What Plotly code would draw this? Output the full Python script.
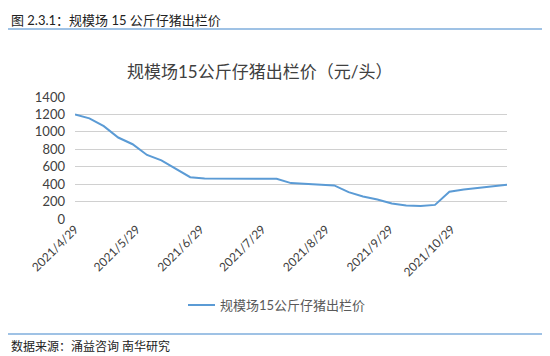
import plotly.graph_objects as go
import pandas as pd

dates = pd.date_range("2021-04-29", periods=31, freq="7D").strftime("%Y-%m-%d").tolist()
prices = [1200, 1155, 1065, 935, 858, 735, 673, 580, 480, 465,
          465, 465, 465, 465, 462, 412, 404, 396, 385, 308,
          258, 223, 177, 154, 150, 162, 312, 338, 354, 373, 392]
tick_dates = ["2021-04-29", "2021-05-29", "2021-06-29", "2021-07-29",
              "2021-08-29", "2021-09-29", "2021-10-29"]
tick_labels = ["2021/4/29", "2021/5/29", "2021/6/29", "2021/7/29",
               "2021/8/29", "2021/9/29", "2021/10/29"]
y_ticks = [0, 200, 400, 600, 800, 1000, 1200, 1400]
series_name = "规模场15公斤仔猪出栏价"
chart_title = "规模场15公斤仔猪出栏价（元/头）"
header = "图 2.3.1：规模场 15 公斤仔猪出栏价"
footer = "数据来源：涌益咨询 南华研究"

# page has an 8px body margin; work in page pixels and convert
OFF = 8
W, H = 550 - OFF, 356 - OFF
L, R, T, B = 75 - OFF, 507 - OFF, 97 - OFF, 219 - OFF
FONT = "Lato, 'Noto Sans CJK SC', sans-serif"


def px(xp):
    return (xp - OFF - L) / (R - L)


def py(yp):
    return (B - (yp - OFF)) / (B - T)


fig = go.Figure()
fig.add_trace(go.Scatter(
    x=dates, y=prices, mode="lines", name=series_name,
    line=dict(color="#5B9BD5", width=2), showlegend=False,
))

fig.update_layout(
    width=W, height=H,
    margin=dict(l=L, r=W - R, t=T, b=H - B),
    paper_bgcolor="white", plot_bgcolor="white",
    font=dict(family=FONT, color="#404040", size=12),
    xaxis=dict(
        type="date", range=[dates[0], dates[-1]],
        tickmode="array", tickvals=tick_dates, ticktext=tick_labels,
        tickangle=-45, showgrid=False, zeroline=False, showline=False,
        ticks="", tickfont=dict(size=12, color="#404040"),
    ),
    yaxis=dict(
        range=[0, 1400], tickmode="array", tickvals=y_ticks,
        showgrid=True, gridcolor="#D0D0D0", gridwidth=1,
        zeroline=False, showline=False, ticks="",
        ticklabelstandoff=9,
        tickfont=dict(size=13, color="#404040"),
    ),
)

shapes = [
    dict(type="line", xref="paper", yref="paper",
         x0=px(8), x1=px(550), y0=py(29), y1=py(29),
         line=dict(color="#7FAEDC", width=1.5)),
    dict(type="line", xref="paper", yref="paper",
         x0=px(8), x1=px(550), y0=py(334), y1=py(334),
         line=dict(color="#7FAEDC", width=1.5)),
    dict(type="line", xref="paper", yref="paper",
         x0=px(188), x1=px(215), y0=py(305), y1=py(305),
         line=dict(color="#5B9BD5", width=2)),
]
fig.update_layout(shapes=shapes)

annotations = [
    dict(text=header, xref="paper", yref="paper", x=px(9), y=py(20),
         xanchor="left", yanchor="middle", showarrow=False,
         font=dict(size=13, color="#222222", family=FONT)),
    dict(text=chart_title, xref="paper", yref="paper", x=px(259), y=py(71),
         xanchor="center", yanchor="middle", showarrow=False,
         font=dict(size=17, color="#404040", family=FONT)),
    dict(text=series_name, xref="paper", yref="paper", x=px(218), y=py(305),
         xanchor="left", yanchor="middle", showarrow=False,
         font=dict(size=13, color="#595959", family=FONT)),
    dict(text=footer, xref="paper", yref="paper", x=px(9), y=py(346),
         xanchor="left", yanchor="middle", showarrow=False,
         font=dict(size=12, color="#222222", family=FONT)),
]
fig.update_layout(annotations=annotations)

fig.write_html("out.html")
